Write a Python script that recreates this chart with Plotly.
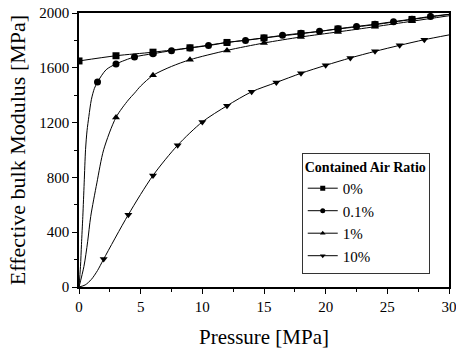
import plotly.graph_objects as go

# ---- data ----
series_names = ["0%", "0.1%", "1%", "10%"]

# 0 % air
p0_line = [0, 3, 6, 9, 12, 15, 18, 21, 24, 27, 30]
k0_line = [1650, 1688, 1714, 1746, 1785, 1818, 1849, 1883, 1915, 1953, 1990]
p0_mark = [0, 3, 6, 9, 12, 15, 18, 21, 24, 27]
k0_mark = [1650, 1688, 1714, 1746, 1785, 1818, 1849, 1883, 1915, 1953]

# 0.1 % air
p01_line = [0, 0.12, 0.2, 0.31, 0.42, 0.53, 0.65, 0.8, 1.0, 1.25, 1.5, 2.2, 3, 4.5, 6, 7.5, 9,
            10.5, 12, 13.5, 15, 16.5, 18, 19.5, 21, 22.5, 24, 25.5, 27, 28.5, 30]
k01_line = [0, 150, 310, 515, 760, 1002, 1140, 1245, 1367, 1450, 1496, 1586, 1628, 1679, 1703,
            1725, 1745, 1762, 1785, 1800, 1818, 1837, 1852, 1866, 1885, 1902, 1918, 1937, 1955,
            1975, 1990]
p01_mark = [1.5, 3, 4.5, 6, 7.5, 9, 10.5, 12, 13.5, 15, 16.5, 18, 19.5, 21, 22.5, 24, 25.5, 27, 28.5]
k01_mark = [1496, 1628, 1679, 1703, 1725, 1745, 1762, 1785, 1800, 1818, 1837, 1852, 1866, 1885,
            1902, 1918, 1937, 1955, 1975]

# 1 % air
p1_line = [0, 0.4, 0.7, 0.95, 1.45, 2.0, 3, 4, 4.5, 5, 6, 7.5, 9, 12, 15, 18, 21, 24, 27, 30]
k1_line = [0, 150, 330, 515, 760, 1002, 1238, 1365, 1415, 1467, 1545, 1610, 1659, 1727, 1781,
           1825, 1862, 1900, 1940, 1980]
p1_mark = [3, 6, 9, 12, 15, 18, 21, 24, 27]
k1_mark = [1238, 1545, 1659, 1727, 1781, 1825, 1862, 1900, 1940]

# 10 % air
p10_line = [0, 0.5, 1, 1.5, 2, 4, 6, 8, 10, 12, 14, 16, 18, 20, 22, 24, 26, 28, 30]
k10_line = [0, 15, 55, 120, 204, 528, 814, 1035, 1205, 1323, 1425, 1493, 1560, 1618, 1672,
            1720, 1764, 1805, 1840]
p10_mark = [2, 4, 6, 8, 10, 12, 14, 16, 18, 20, 22, 24, 26, 28]
k10_mark = [204, 528, 814, 1035, 1205, 1323, 1425, 1493, 1560, 1618, 1672, 1720, 1764, 1805]

x_ticks = [0, 5, 10, 15, 20, 25, 30]
y_ticks = [0, 400, 800, 1200, 1600, 2000]

symbols = ["square", "circle", "triangle-up", "triangle-down"]
lines = [(p0_line, k0_line), (p01_line, k01_line), (p1_line, k1_line), (p10_line, k10_line)]
marks = [(p0_mark, k0_mark), (p01_mark, k01_mark), (p1_mark, k1_mark), (p10_mark, k10_mark)]

SERIF = "Liberation Serif"

fig = go.Figure()
for name, sym, (lx, ly), (mx, my) in zip(series_names, symbols, lines, marks):
    fig.add_trace(go.Scatter(x=lx, y=ly, mode="lines", showlegend=False,
                             line=dict(color="black", width=1, shape="spline", smoothing=0.8),
                             hoverinfo="skip"))
    fig.add_trace(go.Scatter(x=mx, y=my, mode="markers", showlegend=False,
                             marker=dict(symbol=sym, size=7, color="black")))
    # legend entry
    fig.add_trace(go.Scatter(x=[None], y=[None], mode="lines+markers", name=name,
                             line=dict(color="black", width=1),
                             marker=dict(symbol=sym, size=5, color="black")))

fig.update_layout(
    template="none",
    width=456, height=349,
    margin=dict(l=79, r=7, t=13, b=62),
    paper_bgcolor="white", plot_bgcolor="white",
    font=dict(family=SERIF, color="black", size=15),
    legend=dict(
        title=dict(text="<b>Contained Air Ratio</b>", font=dict(family=SERIF, size=14)),
        x=0.602, y=0.49, xanchor="left", yanchor="top",
        bgcolor="white", bordercolor="#333", borderwidth=1,
        font=dict(family=SERIF, size=15), tracegroupgap=0,
    ),
)
fig.update_xaxes(
    range=[0, 30], tickvals=x_ticks, ticktext=[str(v) for v in x_ticks],
    automargin=False, ticklabeloverflow="allow",
    showgrid=False, zeroline=False, showline=True, linecolor="black", linewidth=1.5,
    mirror=True, ticks="outside", ticklen=5, tickwidth=1, tickcolor="black",
    minor=dict(dtick=2.5, ticks="outside", ticklen=3, tickcolor="black", showgrid=False),
    tickfont=dict(family=SERIF, size=15, color="black"),
    title=dict(text="Pressure [MPa]", font=dict(family=SERIF, size=21, color="black"), standoff=17),
)
fig.update_yaxes(
    range=[0, 2000], tickvals=y_ticks, ticktext=[str(v) for v in y_ticks],
    automargin=False,
    showgrid=False, zeroline=False, showline=True, linecolor="black", linewidth=1.5,
    mirror=True, ticks="outside", ticklen=5, tickwidth=1, tickcolor="black",
    minor=dict(dtick=200, ticks="outside", ticklen=3, tickcolor="black", showgrid=False),
    tickfont=dict(family=SERIF, size=15, color="black"),
    title=dict(text="Effective bulk Modulus [MPa]", font=dict(family=SERIF, size=22, color="black"), standoff=8),
)

fig.write_html("out.html")
